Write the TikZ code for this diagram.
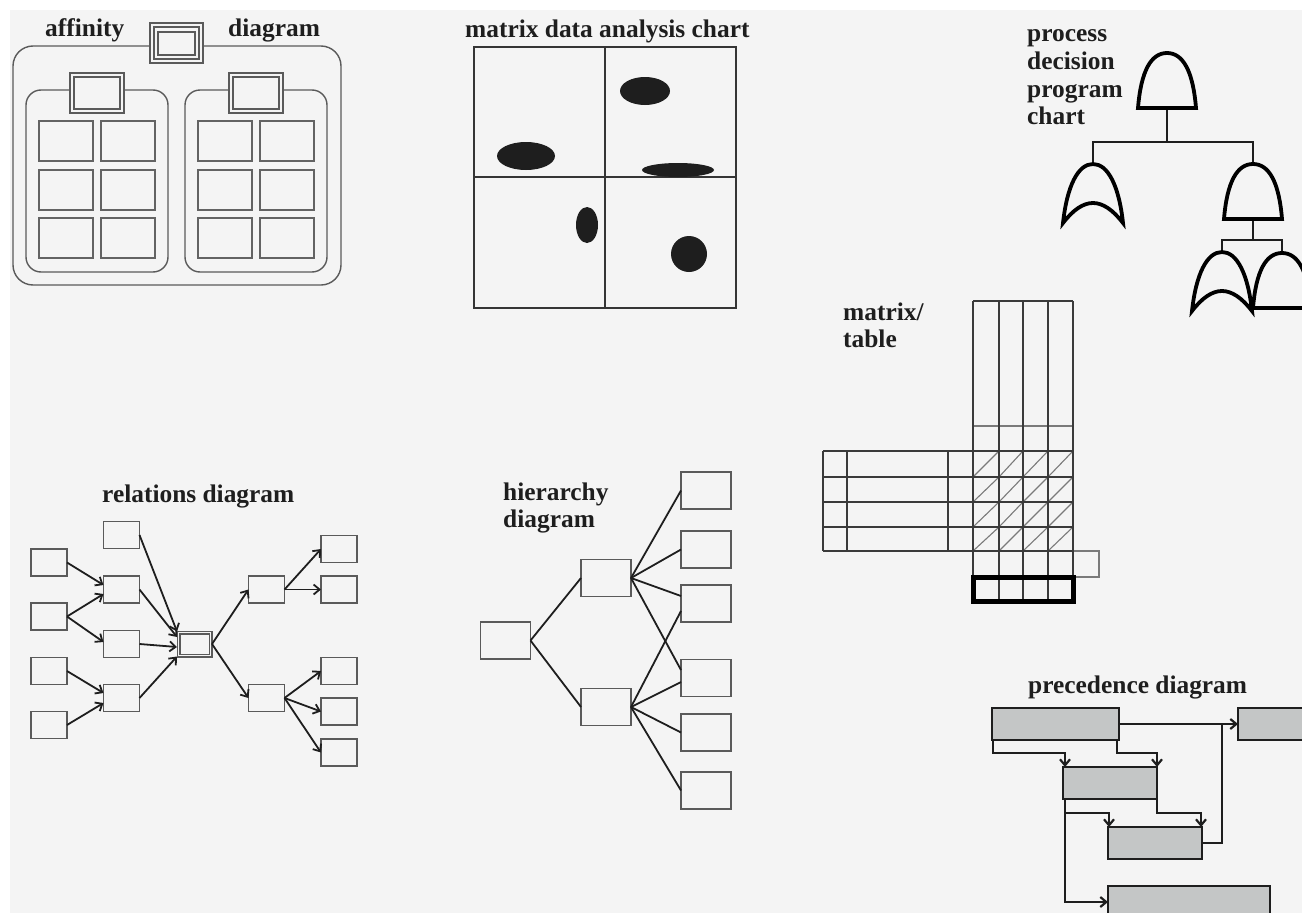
\documentclass[tikz,border=0pt]{standalone}
\usepackage{fontspec}
\setmainfont{Liberation Serif}
\usetikzlibrary{arrows.meta}

\definecolor{paper}{HTML}{F4F4F4}
\definecolor{ink}{HTML}{1E1E1E}
\definecolor{boxline}{HTML}{5A5A5A}
\definecolor{cardline}{HTML}{636363}
\definecolor{gridline}{HTML}{3A3A3A}
\definecolor{gridlight}{HTML}{7A7A7A}
\definecolor{barfill}{HTML}{C4C6C6}

\tikzset{
  title/.style={anchor=base west, inner sep=0pt, text=ink,
    font=\fontsize{25.4}{27.5}\selectfont\bfseries},
  aline/.style={draw=boxline, line width=1.4pt},
  card/.style={draw=cardline, line width=1.8pt},
  mline/.style={draw=ink!90, line width=2.2pt},
  blob/.style={fill=ink},
  rbox/.style={draw=boxline, line width=1.5pt, fill=paper, inner sep=0pt,
    outer sep=0pt, minimum width=36pt, minimum height=27pt},
  cbox/.style={draw=boxline, line width=1.2pt, double=paper, double distance=1.6pt,
    fill=paper, inner sep=0pt, outer sep=0pt, minimum width=32pt, minimum height=23pt},
  link/.style={draw=ink, line width=1.8pt, -{Straight Barb[length=6pt,width=10pt]}},
  hbox/.style={draw=boxline, line width=1.5pt, fill=paper, inner sep=0pt,
    outer sep=0pt, minimum width=50pt, minimum height=37pt},
  hline/.style={draw=ink, line width=1.8pt},
  pbox/.style={draw=ink, line width=2.2pt, fill=barfill, inner sep=0pt,
    outer sep=0pt, minimum height=32pt},
  plink/.style={draw=ink, line width=2.2pt, -{Straight Barb[length=6pt,width=10pt]}},
  pline/.style={draw=ink, line width=2.2pt},
  tree/.style={draw=ink, line width=2.2pt},
  gate/.style={draw=black, line width=3.8pt, fill=paper},
  grid/.style={draw=gridline, line width=1.1pt},
  gridfaint/.style={draw=gridlight, line width=1.1pt},
  andgate/.pic={
    \draw[gate] (-29,55) .. controls (-26,18) and (-16,0) .. (0,0)
      .. controls (16,0) and (26,18) .. (29,55) -- cycle;
    \coordinate (-top) at (0,0);
    \coordinate (-bot) at (0,55);
  },
  orgate/.pic={
    \draw[gate] (-30,59) .. controls (-26,22) and (-15,0) .. (0,0)
      .. controls (15,0) and (26,22) .. (30,59)
      .. controls (20,46) and (10,39) .. (0,39)
      .. controls (-10,39) and (-20,46) .. cycle;
    \coordinate (-top) at (0,0);
  },
}

\begin{document}
\begin{tikzpicture}[x=1pt,y=-1pt]
\useasboundingbox (0,0) rectangle (1302,913);
\clip (0,0) rectangle (1302,913);
\fill[white] (0,0) rectangle (1302,913);
\fill[paper] (10,10) rectangle (1302,913);

% ---------- affinity diagram ----------
\draw[aline, rounded corners=20pt] (13,46) rectangle (341,285);
\draw[aline, rounded corners=15pt] (26,90) rectangle (168,272);
\draw[aline, rounded corners=15pt] (185,90) rectangle (327,272);
\filldraw[aline, fill=paper] (150,23) rectangle (203,63);
\draw[aline] (154,27) rectangle (199,59);
\draw[aline] (158,32) rectangle (195,55);
\filldraw[aline, fill=paper] (70,73) rectangle (124,113);
\draw[aline] (74,77) rectangle (120,109);
\filldraw[aline, fill=paper] (229,73) rectangle (283,113);
\draw[aline] (233,77) rectangle (279,109);
\foreach \x in {39,101,198,260}
  \foreach \y in {121,170,218}
    \draw[card] (\x,\y) rectangle ++(54,40);
\node[title] (affA) at (45,36) {affinity};
\node[title] (affB) at (228,36) {diagram};

% ---------- matrix data analysis chart ----------
\node[title] (mda) at (465,37) {matrix data analysis chart};
\draw[mline] (474,47) rectangle (736,308);
\draw[mline] (605,47) -- (605,308);
\draw[mline] (474,177) -- (736,177);
\fill[blob] (645,91) ellipse [x radius=25pt, y radius=14pt];
\fill[blob] (526,156) ellipse [x radius=29pt, y radius=14pt];
\fill[blob] (678,170) ellipse [x radius=36pt, y radius=7pt];
\fill[blob] (587,225) ellipse [x radius=11pt, y radius=18pt];
\fill[blob] (689,254) circle [radius=18pt];

% ---------- process decision program chart ----------
\node[title] (pd1) at (1027,41) {process};
\node[title] (pd2) at (1027,69) {decision};
\node[title] (pd3) at (1027,97) {program};
\node[title] (pd4) at (1027,124.5) {chart};
\coordinate (b0) at (1167,142);
\coordinate (b1) at (1253,240);
\draw[tree] (1167,108) -- (b0);
\draw[tree] (1093,164) |- (b0) -| (1253,163);
\draw[tree] (1253,221) -- (b1);
\draw[tree] (1222,252) |- (b1) -| (1282,252);
\pic (g0) at (1167,53) {andgate};
\pic (g1) at (1093,164) {orgate};
\pic (g2) at (1253,164) {andgate};
\pic (g3) at (1222,252) {orgate};
\pic (g4) at (1282,253) {andgate};

% ---------- matrix / table ----------
\node[title] (mt1) at (843,320) {matrix/};
\node[title] (mt2) at (843,347) {table};
\foreach \xa/\xb in {973/999,999/1023,1023/1048,1048/1073}
  \foreach \ya/\yb in {451/477,477/502,502/527,527/551}
    \draw[gridfaint] (\xa,\yb) -- (\xb,\ya);
\draw[gridfaint] (973,426) -- (1073,426);
\draw[gridfaint] (1073,551) rectangle (1099,577);
\foreach \x in {973,999,1023,1048,1073}
  \draw[grid] (\x,301) -- (\x,577);
\draw[grid] (973,301) -- (1073,301);
\foreach \y in {451,477,502,527,551}
  \draw[grid] (823,\y) -- (1073,\y);
\foreach \x in {823,847,948}
  \draw[grid] (\x,451) -- (\x,551);
\foreach \x in {999,1023,1048}
  \draw[grid] (\x,577) -- (\x,601);
\draw[line width=5pt, draw=black] (973.5,577.5) rectangle (1073.5,601.5);

% ---------- relations diagram ----------
\node[title] (rel) at (102,502) {relations diagram};
\node[rbox] (L1) at (49,562.5) {};
\node[rbox] (L2) at (49,616.5) {};
\node[rbox] (L3) at (49,671) {};
\node[rbox] (L4) at (49,725) {};
\node[rbox] (M0) at (121.5,535) {};
\node[rbox] (M1) at (121.5,589.5) {};
\node[rbox] (M2) at (121.5,644) {};
\node[rbox] (M3) at (121.5,698) {};
\node[cbox] (C) at (194.5,644) {};
\node[rbox] (R1) at (266.5,589.5) {};
\node[rbox] (R2) at (266.5,698) {};
\node[rbox] (S1) at (339,549) {};
\node[rbox] (S2) at (339,589.5) {};
\node[rbox] (S3) at (339,671) {};
\node[rbox] (S4) at (339,711.5) {};
\node[rbox] (S5) at (339,752.5) {};
\draw[link] (L1.east) -- ([yshift=4.5pt]M1.west);
\draw[link] (L2.east) -- ([yshift=-4.5pt]M1.west);
\draw[link] (L2.east) -- ([yshift=2pt]M2.west);
\draw[link] (L3.east) -- ([yshift=5pt]M3.west);
\draw[link] (L4.east) -- ([yshift=-5pt]M3.west);
\draw[link] (M0.east) -- ([xshift=-1.5pt,yshift=1pt]C.north west);
\draw[link] (M1.east) -- ([xshift=-1.5pt,yshift=7pt]C.west);
\draw[link] (M2.east) -- ([xshift=-1.5pt,yshift=-3pt]C.west);
\draw[link] (M3.east) -- ([xshift=-1.5pt,yshift=-1pt]C.south west);
\draw[link] ([xshift=1.5pt]C.east) -- (R1.west);
\draw[link] ([xshift=1.5pt]C.east) -- (R2.west);
\draw[link] (R1.east) -- (S1.west);
\draw[link] (R1.east) -- (S2.west);
\draw[link] (R2.east) -- (S3.west);
\draw[link] (R2.east) -- (S4.west);
\draw[link] (R2.east) -- (S5.west);

% ---------- hierarchy diagram ----------
\node[title] (hi1) at (503,500) {hierarchy};
\node[title] (hi2) at (503,527) {diagram};
\node[hbox] (root) at (505.5,640.5) {};
\node[hbox] (mid1) at (606,578) {};
\node[hbox] (mid2) at (606,707) {};
\node[hbox] (lf1) at (706,490.5) {};
\node[hbox] (lf2) at (706,549.5) {};
\node[hbox] (lf3) at (706,603.5) {};
\node[hbox] (lf4) at (706,678) {};
\node[hbox] (lf5) at (706,732.5) {};
\node[hbox] (lf6) at (706,790.5) {};
\draw[hline] (root.east) -- (mid1.west);
\draw[hline] (root.east) -- (mid2.west);
\draw[hline] (mid1.east) -- (lf1.west);
\draw[hline] (mid1.east) -- (lf2.west);
\draw[hline] (mid1.east) -- ([yshift=7.5pt]lf3.west);
\draw[hline] (mid1.east) -- ([yshift=8pt]lf4.west);
\draw[hline] (mid2.east) -- ([yshift=-7.5pt]lf3.west);
\draw[hline] (mid2.east) -- ([yshift=-4pt]lf4.west);
\draw[hline] (mid2.east) -- (lf5.west);
\draw[hline] (mid2.east) -- (lf6.west);

% ---------- precedence diagram ----------
\node[title] (pre) at (1028,693) {precedence diagram};
\node[pbox, minimum width=127pt] (A) at (1055.5,724) {};
\node[pbox, minimum width=92pt] (B) at (1284,724) {};
\node[pbox, minimum width=94pt] (Cc) at (1110,783) {};
\node[pbox, minimum width=94pt] (D) at (1155,843) {};
\node[pbox, minimum width=162pt] (E) at (1189,902) {};
\coordinate (join) at (1222,724);
\draw[plink] (A.east) -- (B.west);
\draw[plink] ([xshift=1pt]A.south west) -- ++(0,13) -| ([xshift=2pt]Cc.north west);
\draw[plink] ([xshift=-2pt]A.south east) -- ++(0,13) -| (Cc.north east);
\draw[plink] ([xshift=2pt]Cc.south west) -- ++(0,14) -| ([xshift=1pt]D.north west);
\draw[plink] (Cc.south east) -- ++(0,14) -| ([xshift=-1pt]D.north east);
\draw[pline] (D.east) -| (join);
\draw[plink] ([xshift=2pt]Cc.south west) |- (E.west);
\end{tikzpicture}
\end{document}
